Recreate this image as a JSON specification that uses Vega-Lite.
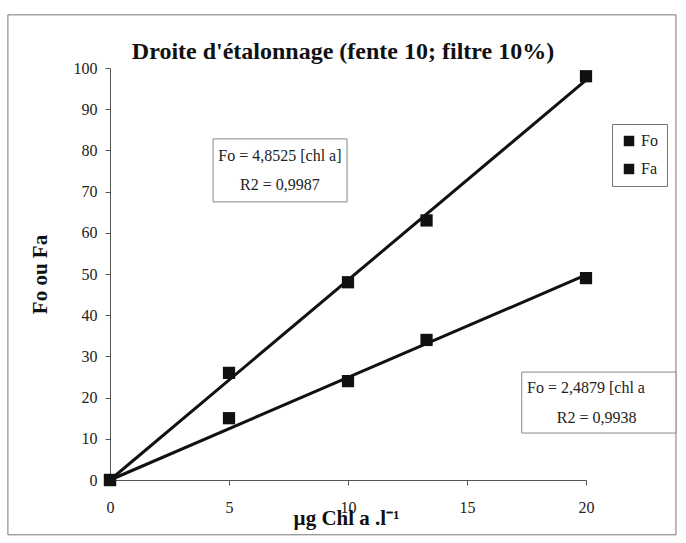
{
  "$schema": "https://vega.github.io/schema/vega-lite/v6.json",
  "width": 476,
  "height": 412,
  "autosize": {"type": "none"},
  "padding": {"left": 110, "top": 68, "right": 100, "bottom": 63},
  "background": "white",
  "title": {
    "text": "Droite d'étalonnage (fente 10; filtre 10%)",
    "font": "Liberation Serif",
    "fontSize": 24,
    "fontWeight": "bold",
    "color": "#111",
    "anchor": "middle",
    "frame": "group",
    "dx": -5,
    "offset": -50
  },
  "datasets": {
    "points": [
      {"x": 0, "y": 0, "series": "Fo"},
      {"x": 5, "y": 26, "series": "Fo"},
      {"x": 10, "y": 48, "series": "Fo"},
      {"x": 13.3, "y": 63, "series": "Fo"},
      {"x": 20, "y": 98, "series": "Fo"},
      {"x": 0, "y": 0, "series": "Fa"},
      {"x": 5, "y": 15, "series": "Fa"},
      {"x": 10, "y": 24, "series": "Fa"},
      {"x": 13.3, "y": 34, "series": "Fa"},
      {"x": 20, "y": 49, "series": "Fa"}
    ],
    "trend": [
      {"x": 0, "y": 0, "series": "Fo"},
      {"x": 20, "y": 97.05, "series": "Fo"},
      {"x": 0, "y": 0, "series": "Fa"},
      {"x": 20, "y": 49.76, "series": "Fa"}
    ],
    "boxes": [
      {"x1": 4.33, "x2": 9.96, "y1": 82.8, "y2": 67.5},
      {"x1": 17.3, "x2": 23.78, "y1": 26.2, "y2": 11.4}
    ],
    "frame": [
      {"x1": -4.29, "x2": 23.78, "y1": 112.9, "y2": -13.3}
    ],
    "labels": [
      {"x": 7.14, "y": 78.6, "label": "Fo = 4,8525 [chl a]"},
      {"x": 7.14, "y": 71.6, "label": "R2 = 0,9987"},
      {"x": 20.0, "y": 22.3, "label": "Fo = 2,4879 [chl a"},
      {"x": 20.45, "y": 15.0, "label": "R2 = 0,9938"}
    ]
  },
  "layer": [
    {
      "data": {"name": "frame"},
      "mark": {"type": "rect", "fill": null, "fillOpacity": 0, "stroke": "#777", "strokeWidth": 1, "clip": false},
      "encoding": {
        "x": {"field": "x1", "type": "quantitative"},
        "x2": {"field": "x2"},
        "y": {"field": "y1", "type": "quantitative"},
        "y2": {"field": "y2"}
      }
    },
    {
      "data": {"name": "trend"},
      "mark": {"type": "line", "color": "#111", "strokeWidth": 3},
      "encoding": {
        "x": {"field": "x", "type": "quantitative", "scale": {"domain": [0, 20], "nice": false},
          "axis": {"values": [0, 5, 10, 15, 20], "title": "µg Chl a .l⁻¹"}},
        "y": {"field": "y", "type": "quantitative", "scale": {"domain": [0, 100], "nice": false},
          "axis": {"values": [0, 10, 20, 30, 40, 50, 60, 70, 80, 90, 100], "title": "Fo ou Fa"}},
        "detail": {"field": "series"}
      }
    },
    {
      "data": {"name": "points"},
      "mark": {"type": "point", "shape": "square", "filled": true, "size": 150, "opacity": 1},
      "encoding": {
        "x": {"field": "x", "type": "quantitative"},
        "y": {"field": "y", "type": "quantitative"},
        "color": {
          "field": "series",
          "type": "nominal",
          "scale": {"domain": ["Fo", "Fa"], "range": ["#111", "#111"]},
          "legend": {"title": null}
        }
      }
    },
    {
      "data": {"name": "boxes"},
      "mark": {"type": "rect", "fill": "white", "stroke": "#888", "strokeWidth": 1, "clip": false},
      "encoding": {
        "x": {"field": "x1", "type": "quantitative"},
        "x2": {"field": "x2"},
        "y": {"field": "y1", "type": "quantitative"},
        "y2": {"field": "y2"}
      }
    },
    {
      "data": {"name": "labels"},
      "mark": {"type": "text", "font": "Liberation Serif", "fontSize": 16, "color": "#222", "baseline": "middle", "align": "center", "clip": false},
      "encoding": {
        "x": {"field": "x", "type": "quantitative"},
        "y": {"field": "y", "type": "quantitative"},
        "text": {"field": "label"}
      }
    }
  ],
  "config": {
    "view": {"stroke": null},
    "axis": {
      "grid": false,
      "labelFlush": false,
      "domainColor": "#555",
      "tickColor": "#555",
      "tickSize": 5,
      "labelColor": "#222",
      "labelFont": "Liberation Serif",
      "labelFontSize": 16,
      "titleFont": "Liberation Serif",
      "titleFontSize": 21,
      "titleFontWeight": "bold",
      "titleColor": "#111"
    },
    "axisX": {"labelPadding": 14, "titleX": 236, "titleY": 38, "titleBaseline": "middle"},
    "axisY": {"labelPadding": 8, "titleX": -70, "titleY": 206, "titleBaseline": "middle"},
    "legend": {
      "orient": "none",
      "legendX": 502,
      "legendY": 56,
      "strokeColor": "#777",
      "fillColor": "white",
      "padding": 9,
      "symbolType": "square",
      "symbolSize": 110,
      "symbolOpacity": 1,
      "labelFont": "Liberation Serif",
      "labelFontSize": 16,
      "labelColor": "#222",
      "rowPadding": 12
    }
  }
}
